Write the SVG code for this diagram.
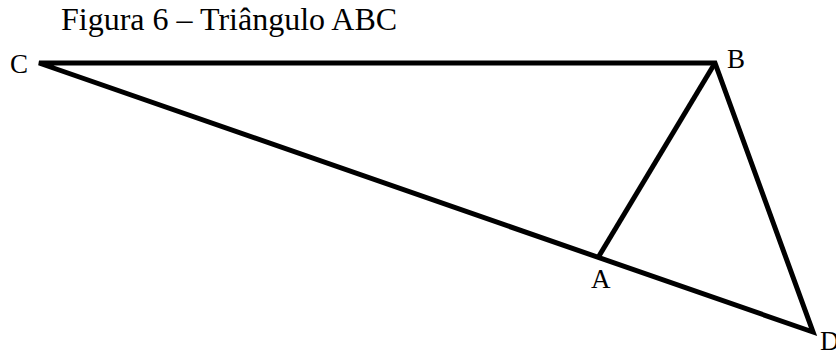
<svg xmlns="http://www.w3.org/2000/svg" width="836" height="352" viewBox="0 0 836 352">
<style>
.t{font-family:"Liberation Serif","Times New Roman",serif;fill:#000}
.lb{font-size:27px}
.ln{stroke:#000;stroke-width:5;fill:none;stroke-linejoin:miter;stroke-linecap:butt}
</style>
<rect width="836" height="352" fill="#fff"/>
<text class="t" x="61" y="30" font-size="32">Figura 6 – Triângulo ABC</text>
<g id="connectors">
<path class="ln" d="M39,63 L715,63 L813,332 Z"/>
<path class="ln" d="M715,63 L599,256"/>
</g>
<g id="C"><text class="t lb" x="10" y="73">C</text></g>
<g id="B"><text class="t lb" x="727" y="68">B</text></g>
<g id="A"><text class="t lb" x="591" y="288">A</text></g>
<g id="D"><text class="t lb" x="820" y="350">D</text></g>
</svg>
